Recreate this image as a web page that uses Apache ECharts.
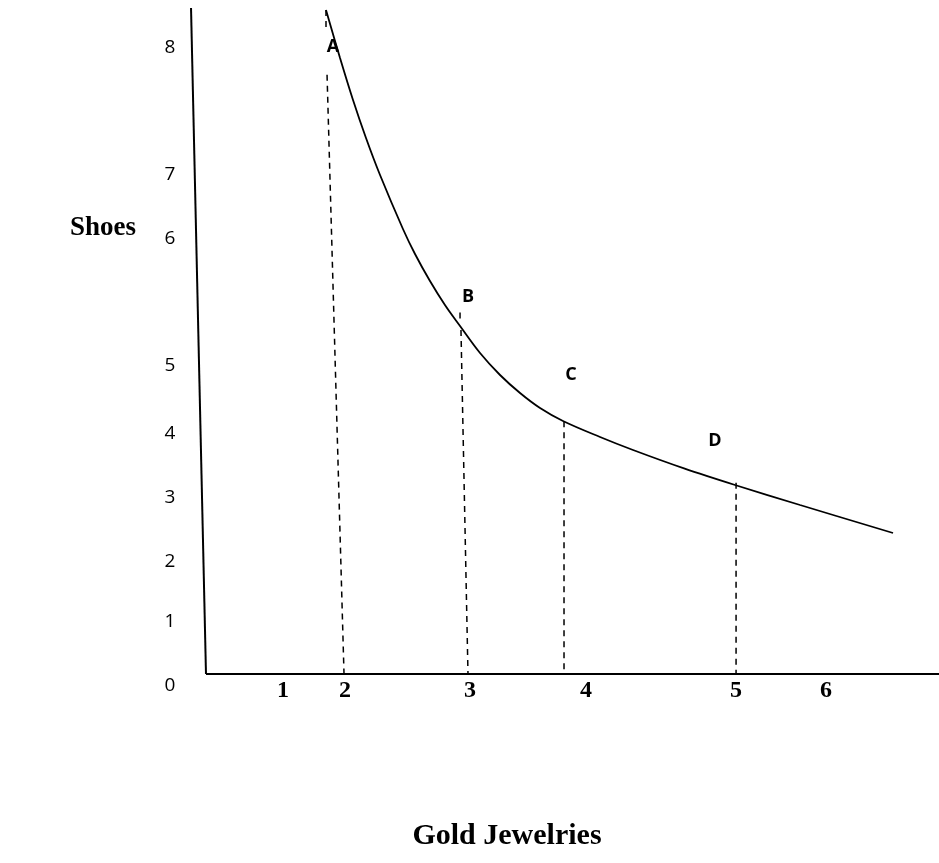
<!DOCTYPE html>
<html>
<head>
<meta charset="utf-8">
<style>html,body{margin:0;padding:0;background:#fff}#c{width:939px;height:863px}</style>
<script src="https://cdn.jsdelivr.net/npm/echarts@6/dist/echarts.min.js"></script>
</head>
<body>
<div id="c"></div>
<script>
// Indifference curve (Gold Jewelries on x, Shoes on y), in drawing units
var curveX = [1.146, 1.280, 1.404, 1.528, 1.662, 1.881, 1.996, 2.139, 2.282, 2.426, 2.617, 2.808, 2.999, 3.190, 3.409, 3.763, 4.078, 4.565, 5.052, 5.673, 6.561];
var curveY = [8.30, 7.70, 7.175, 6.70, 6.2375, 5.5625, 5.25, 4.9125, 4.6125, 4.35, 4.0125, 3.7375, 3.5125, 3.325, 3.1625, 2.9625, 2.80, 2.57, 2.3625, 2.1125, 1.7625];

// Points on the curve
var pointNames = ['A', 'B', 'C', 'D'];
var pointLabelX = [1.213, 2.502, 3.486, 4.861];
var pointLabelY = [7.84, 4.71, 3.74, 2.91];

// Dashed drop lines: [x1, y1, x2, y2]
var dropA = [1.156, 7.49, 1.318, 0];
var dropATop = [1.146, 8.3, 1.146, 8.05];
var dropB = [2.435, 4.30, 2.502, 0];
var dropBTop = [2.426, 4.52, 2.426, 4.42];
var dropC = [3.419, 3.16, 3.419, 0];
var dropD = [5.062, 2.39, 5.062, 0];

// Hand-drawn axes
var yAxisLine = [-0.143, 8.325, 0, 0];
var xAxisLine = [0, 0, 7, 0];

// Tick labels (irregularly placed in the original)
var yTickLabels = ['8', '7', '6', '5', '4', '3', '2', '1', '0'];
var yTickAt = [7.825, 6.24, 5.44, 3.85, 3.01, 2.21, 1.41, 0.65, -0.15];
var yTickX = -0.344;
var xTickLabels = ['1', '2', '3', '4', '5', '6'];
var xTickAt = [0.735, 1.327, 2.521, 3.629, 5.062, 5.921];
var xTickY = -0.21;

var xTitle = 'Gold Jewelries';
var yTitle = 'Shoes';

function seg(a) { return [[a[0], a[1]], [a[2], a[3]]]; }
function lineSeries(a, dashed, w) {
  return {
    type: 'line', data: seg(a), showSymbol: false, silent: true, clip: false,
    lineStyle: { color: '#000', width: w, type: dashed ? [6, 5] : 'solid' },
    animation: false
  };
}
function labelSeries(names, xs, ys, font) {
  return {
    type: 'scatter', symbolSize: 0, clip: false, animation: false, silent: true,
    itemStyle: { opacity: 1 },
    data: names.map(function (n, i) {
      return { name: n, value: [Array.isArray(xs) ? xs[i] : xs, Array.isArray(ys) ? ys[i] : ys] };
    }),
    label: Object.assign({ show: true, position: 'inside', formatter: '{b}', color: '#000', opacity: 1 }, font)
  };
}

var series = [];
series.push(lineSeries(yAxisLine, false, 2));
series.push(lineSeries(xAxisLine, false, 2));
[dropA, dropATop, dropB, dropBTop, dropC, dropD].forEach(function (d) { series.push(lineSeries(d, true, 1.5)); });
series.push({
  type: 'line', smooth: 0.35, showSymbol: false, clip: false, animation: false,
  data: curveX.map(function (x, i) { return [x, curveY[i]]; }),
  lineStyle: { color: '#000', width: 1.8 }
});
series.push(labelSeries(pointNames, pointLabelX, pointLabelY,
  { fontFamily: 'Open Sans', fontWeight: 'bold', fontSize: 18 }));
series.push(labelSeries(yTickLabels, yTickX, yTickAt,
  { fontFamily: 'Open Sans', fontSize: 19 }));
series.push(labelSeries(xTickLabels, xTickAt, xTickY,
  { fontFamily: 'Liberation Serif', fontWeight: 'bold', fontSize: 24 }));

var chart = echarts.init(document.getElementById('c'), null, { renderer: 'canvas' });
chart.setOption({
  backgroundColor: '#fff',
  animation: false,
  grid: { left: 7.04, right: 0, top: 2, bottom: 149, containLabel: false },
  xAxis: { type: 'value', min: -1.9, max: 7, show: false },
  yAxis: { type: 'value', min: -0.5, max: 8.4, show: false },
  graphic: [
    { type: 'text', style: { text: yTitle, font: 'bold 27px "Liberation Serif"', fill: '#000', textAlign: 'center', textVerticalAlign: 'middle', x: 103, y: 228 } },
    { type: 'text', style: { text: xTitle, font: 'bold 30px "Liberation Serif"', fill: '#000', textAlign: 'center', textVerticalAlign: 'middle', x: 507, y: 836 } }
  ],
  series: series
});
</script>
</body>
</html>
